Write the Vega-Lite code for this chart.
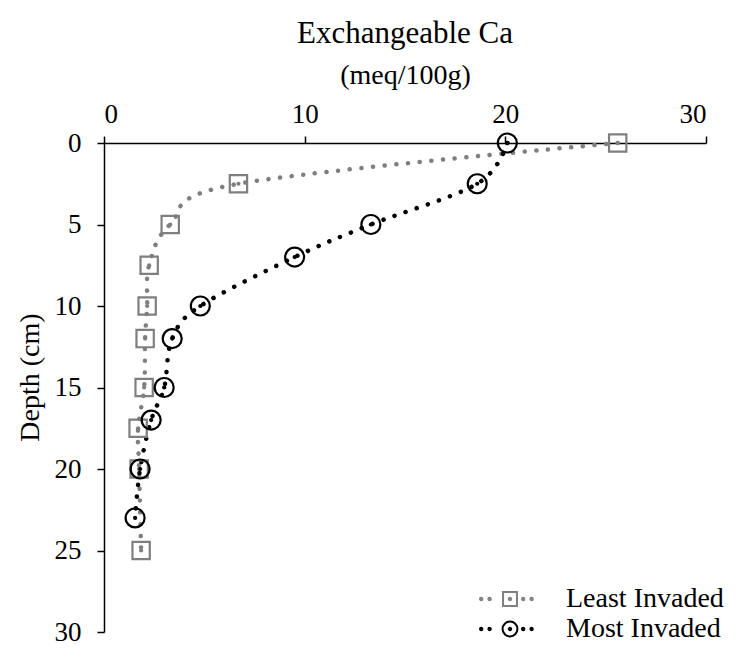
{
  "$schema": "https://vega.github.io/schema/vega-lite/v6.json",
  "width": 602,
  "height": 489,
  "autosize": {"type": "none"},
  "padding": {"left": 104, "top": 143, "right": 43, "bottom": 30},
  "background": "white",
  "title": {"text": "Exchangeable Ca", "font": "Liberation Serif", "fontSize": 31, "fontWeight": "normal", "color": "black", "anchor": "middle", "frame": "group", "offset": 11},
  "config": {
    "font": "Liberation Serif",
    "view": {"stroke": null},
    "axis": {"grid": false, "domainColor": "black", "tickColor": "black", "domainWidth": 1.5, "tickWidth": 1.5, "labelColor": "black", "titleColor": "black", "labelFont": "Liberation Serif", "titleFont": "Liberation Serif", "labelFontSize": 27, "titleFontSize": 28, "titleFontWeight": "normal", "tickSize": 7},
    "legend": {"labelFont": "Liberation Serif", "labelFontSize": 28, "labelColor": "black"}
  },
  "data": {
    "values": [
      {"series": "Least Invaded", "depth": 0, "ca": 25.6},
      {"series": "Least Invaded", "depth": 2.5, "ca": 6.7},
      {"series": "Least Invaded", "depth": 5, "ca": 3.3},
      {"series": "Least Invaded", "depth": 7.5, "ca": 2.25},
      {"series": "Least Invaded", "depth": 10, "ca": 2.15},
      {"series": "Least Invaded", "depth": 12, "ca": 2.05},
      {"series": "Least Invaded", "depth": 15, "ca": 2.0},
      {"series": "Least Invaded", "depth": 17.5, "ca": 1.7},
      {"series": "Least Invaded", "depth": 20, "ca": 1.75},
      {"series": "Least Invaded", "depth": 25, "ca": 1.85},
      {"series": "Most Invaded", "depth": 0, "ca": 20.1},
      {"series": "Most Invaded", "depth": 2.5, "ca": 18.6},
      {"series": "Most Invaded", "depth": 5, "ca": 13.3},
      {"series": "Most Invaded", "depth": 7, "ca": 9.5},
      {"series": "Most Invaded", "depth": 10, "ca": 4.8},
      {"series": "Most Invaded", "depth": 12, "ca": 3.4},
      {"series": "Most Invaded", "depth": 15, "ca": 3.0},
      {"series": "Most Invaded", "depth": 17, "ca": 2.35},
      {"series": "Most Invaded", "depth": 20, "ca": 1.8},
      {"series": "Most Invaded", "depth": 23, "ca": 1.55}
    ]
  },
  "encoding": {
    "x": {
      "field": "ca", "type": "quantitative",
      "scale": {"domain": [0, 30], "nice": false, "zero": false},
      "axis": {"orient": "top", "values": [0, 10, 20, 30], "title": "(meq/100g)", "titlePadding": 11, "labelPadding": 8}
    },
    "y": {
      "field": "depth", "type": "quantitative",
      "scale": {"domain": [0, 30], "reverse": true, "nice": false},
      "axis": {"values": [0, 5, 10, 15, 20, 25, 30], "title": "Depth (cm)", "titlePadding": 10, "labelPadding": 16, "titleY": 234}
    }
  },
  "layer": [
    {
      "transform": [{"filter": "datum.series === 'Least Invaded'"}],
      "mark": {"type": "line", "interpolate": "cardinal", "strokeWidth": 4.5, "strokeDash": [0.1, 11.6], "strokeCap": "round", "color": "#7f7f7f"},
      "encoding": {"order": {"field": "depth", "type": "quantitative"}}
    },
    {
      "transform": [{"filter": "datum.series === 'Most Invaded'"}],
      "mark": {"type": "line", "interpolate": "cardinal", "strokeWidth": 4.5, "strokeDash": [0.1, 11.6], "strokeCap": "round", "color": "#000000"},
      "encoding": {"order": {"field": "depth", "type": "quantitative"}}
    },
    {
      "transform": [{"filter": "datum.series === 'Least Invaded'"}],
      "mark": {"type": "point", "filled": true, "size": 18, "opacity": 1, "shape": "circle", "strokeWidth": 0, "color": "#7f7f7f"}
    },
    {
      "transform": [{"filter": "datum.series === 'Most Invaded'"}],
      "mark": {"type": "point", "filled": true, "size": 18, "opacity": 1, "shape": "circle", "strokeWidth": 0, "color": "#000000"}
    },
    {
      "transform": [{"filter": "datum.series === 'Least Invaded'"}],
      "mark": {"type": "point", "filled": false, "strokeWidth": 2.2, "opacity": 1, "shape": "square", "size": 300, "color": "#7f7f7f"}
    },
    {
      "transform": [{"filter": "datum.series === 'Most Invaded'"}],
      "mark": {"type": "point", "filled": false, "strokeWidth": 2.2, "opacity": 1, "shape": "circle", "size": 360, "color": "#000000"}
    },
    {
      "transform": [{"filter": "false"}],
      "mark": {"type": "point", "filled": false, "strokeWidth": 2, "opacity": 1, "size": 576},
      "encoding": {
        "color": {
          "field": "series", "type": "nominal",
          "scale": {"domain": ["Least Invaded", "Most Invaded"], "range": ["#7f7f7f", "#000000"]},
          "legend": {"title": null, "orient": "none", "legendX": 392, "legendY": 442, "symbolSize": 576, "symbolStrokeWidth": 2, "symbolFillColor": "transparent", "labelOffset": 42, "rowPadding": 2, "labelLimit": 400}
        },
        "shape": {
          "field": "series", "type": "nominal",
          "scale": {"domain": ["Least Invaded", "Most Invaded"], "range": [
            "M-2.5,0a0.1,0.1 0 1,0 0.2,0a0.1,0.1 0 1,0 -0.2,0M-1.8,0a0.1,0.1 0 1,0 0.2,0a0.1,0.1 0 1,0 -0.2,0M-0.1,0a0.1,0.1 0 1,0 0.2,0a0.1,0.1 0 1,0 -0.2,0M1,0a0.1,0.1 0 1,0 0.2,0a0.1,0.1 0 1,0 -0.2,0M1.7,0a0.1,0.1 0 1,0 0.2,0a0.1,0.1 0 1,0 -0.2,0M-0.58,-0.58H0.58V0.58H-0.58Z",
            "M-2.5,0a0.1,0.1 0 1,0 0.2,0a0.1,0.1 0 1,0 -0.2,0M-1.8,0a0.1,0.1 0 1,0 0.2,0a0.1,0.1 0 1,0 -0.2,0M-0.1,0a0.1,0.1 0 1,0 0.2,0a0.1,0.1 0 1,0 -0.2,0M1,0a0.1,0.1 0 1,0 0.2,0a0.1,0.1 0 1,0 -0.2,0M1.7,0a0.1,0.1 0 1,0 0.2,0a0.1,0.1 0 1,0 -0.2,0M-0.62,0a0.62,0.62 0 1,0 1.24,0a0.62,0.62 0 1,0 -1.24,0"
          ]},
          "legend": {"title": null, "orient": "none", "legendX": 392, "legendY": 442, "symbolSize": 576, "symbolStrokeWidth": 2, "symbolFillColor": "transparent", "labelOffset": 42, "rowPadding": 2, "labelLimit": 400}
        }
      }
    }
  ]
}
